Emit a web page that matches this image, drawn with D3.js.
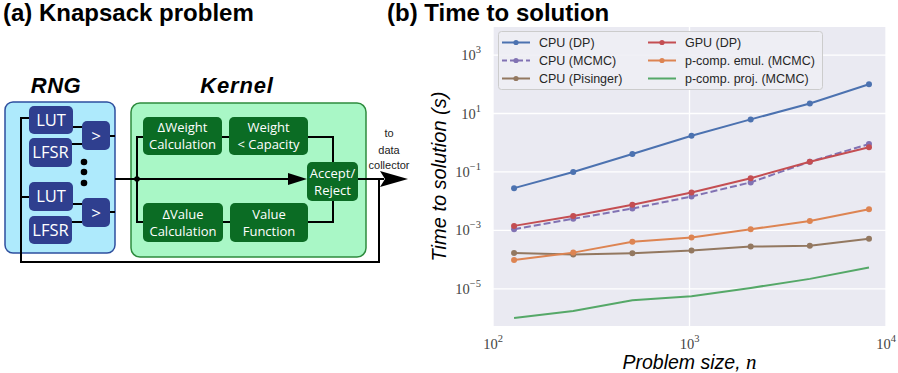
<!doctype html>
<html>
<head>
  <script src="https://d3js.org/d3.v7.min.js"></script>
  <style>
    body { margin: 0; background: #fff; }
    text { font-family: "Liberation Sans", Arial, sans-serif; }
  </style>
</head>
<body>
<div id="fig"></div>
<script>

// problem sizes n (x axis)
var sizes = [128, 256, 512, 1024, 2048, 4096, 8192];

// time to solution, seconds
var cpuDP       = [0.028, 0.10, 0.41, 1.74, 6.3, 22, 100];
var cpuMCMC     = [0.0011, 0.0025, 0.0056, 0.0145, 0.044, 0.225, 0.9];
var cpuPisinger = [1.7e-4, 1.49e-4, 1.66e-4, 2.04e-4, 2.8e-4, 3.0e-4, 5.2e-4];
var gpuDP       = [0.00143, 0.0031, 0.0076, 0.020, 0.061, 0.225, 0.70];
var pcompEmul   = [9.8e-5, 1.74e-4, 4.1e-4, 5.7e-4, 1.1e-3, 2.1e-3, 5.3e-3];
var pcompProj   = [1.0e-6, 1.74e-6, 4.1e-6, 5.6e-6, 1.08e-5, 2.2e-5, 5.4e-5];

var seriesNames = ["CPU (DP)", "CPU (MCMC)", "CPU (Pisinger)", "GPU (DP)", "p-comp. emul. (MCMC)", "p-comp. proj. (MCMC)"];
var xTickExps = [2, 3, 4];
var yTickExps = [3, 1, -1, -3, -5];

var series = [
  {name: seriesNames[0], values: cpuDP,       color: "#4c72b0", dash: null,  dots: true},
  {name: seriesNames[1], values: cpuMCMC,     color: "#8172b3", dash: "7,3", dots: true},
  {name: seriesNames[2], values: cpuPisinger, color: "#937860", dash: null,  dots: true},
  {name: seriesNames[3], values: gpuDP,       color: "#c44e52", dash: null,  dots: true},
  {name: seriesNames[4], values: pcompEmul,   color: "#dd8452", dash: null,  dots: true},
  {name: seriesNames[5], values: pcompProj,   color: "#55a868", dash: null,  dots: false}
];

var W = 898, H = 373;
var svg = d3.select("#fig").append("svg")
    .attr("width", W)
    .attr("height", H);

// panel titles
svg.append("text").attr("x", 3).attr("y", 21)
    .style("font-size", "24px").style("font-weight", "bold")
    .text("(a) Knapsack problem");
svg.append("text").attr("x", 387).attr("y", 21)
    .style("font-size", "24px").style("font-weight", "bold")
    .text("(b) Time to solution");

// ---------- (a) block diagram ----------
var dg = svg.append("g");
var boxFont = "'Open Sans', 'Noto Sans', sans-serif";

dg.append("text").attr("x", 56).attr("y", 93).attr("text-anchor", "middle")
    .style("font-size", "22px").style("font-weight", "bold").style("font-style", "italic")
    .style("letter-spacing", "0.5px").text("RNG");
dg.append("text").attr("x", 237).attr("y", 93).attr("text-anchor", "middle")
    .style("font-size", "22px").style("font-weight", "bold").style("font-style", "italic")
    .style("letter-spacing", "0.8px").text("Kernel");

dg.append("rect").attr("x", 5).attr("y", 102).attr("width", 110).attr("height", 151).attr("rx", 8)
    .attr("fill", "#aeeafc").attr("stroke", "#2e4f9e").attr("stroke-width", 1.5);
dg.append("rect").attr("x", 131).attr("y", 103).attr("width", 235).attr("height", 154).attr("rx", 9)
    .attr("fill", "#a9f7c6").attr("stroke", "#2e8c3e").attr("stroke-width", 1.5);

// wires
var wires = [
  [[29,118],[21,118],[21,262],[379,262],[379,179]],
  [[29,197],[21,197]],
  [[73,127],[82,127]], [[72,144],[82,144]],
  [[73,204],[82,204]], [[72,222],[82,222]],
  [[110,136],[115,136]], [[110,212],[115,212]],
  [[115,179],[292,179]],
  [[143,137],[137,137],[137,222],[143,222]],
  [[222,137],[229,137]], [[223,222],[230,222]],
  [[308,137],[333,137],[333,162]],
  [[308,222],[333,222],[333,201]],
  [[358,179],[384,179]]
];
wires.forEach(function(w) {
  dg.append("path").attr("d", d3.line()(w))
    .attr("fill", "none").attr("stroke", "#000").attr("stroke-width", 2);
});
dg.append("circle").attr("cx", 137).attr("cy", 179).attr("r", 2.8).attr("fill", "#000");
dg.append("path").attr("d", "M288,173L307,179L288,185Z").attr("fill", "#000");
dg.append("path").attr("d", "M380,171L408,179L380,187L385,179Z").attr("fill", "#000");

var blue = "#2f3f8f", green = "#0b6c24";
var blocks = [
  {x: 29, y: 106, w: 44, h: 28, fill: blue, lines: ["LUT"], fs: 16.5},
  {x: 29, y: 138, w: 43, h: 29, fill: blue, lines: ["LFSR"], fs: 16.5},
  {x: 82, y: 121, w: 28, h: 29, fill: blue, lines: [">"], fs: 17},
  {x: 29, y: 182, w: 44, h: 29, fill: blue, lines: ["LUT"], fs: 16.5},
  {x: 29, y: 216, w: 43, h: 28, fill: blue, lines: ["LFSR"], fs: 16.5},
  {x: 82, y: 198, w: 28, h: 29, fill: blue, lines: [">"], fs: 17},
  {x: 143, y: 117, w: 79, h: 38, fill: green, lines: ["\u0394Weight", "Calculation"], fs: 13},
  {x: 229, y: 117, w: 79, h: 38, fill: green, lines: ["Weight", "< Capacity"], fs: 13},
  {x: 143, y: 203, w: 80, h: 39, fill: green, lines: ["\u0394Value", "Calculation"], fs: 13},
  {x: 230, y: 203, w: 78, h: 39, fill: green, lines: ["Value", "Function"], fs: 13},
  {x: 307, y: 162, w: 51, h: 39, fill: green, lines: ["Accept/", "Reject"], fs: 13}
];
blocks.forEach(function(b) {
  dg.append("rect").attr("x", b.x).attr("y", b.y).attr("width", b.w).attr("height", b.h)
    .attr("rx", 5).attr("fill", b.fill);
  var n = b.lines.length;
  b.lines.forEach(function(s, i) {
    dg.append("text").attr("x", b.x + b.w / 2)
      .attr("y", b.y + b.h / 2 + (i - (n - 1) / 2) * 17 + b.fs * 0.36)
      .attr("text-anchor", "middle").attr("fill", "#fff")
      .style("font-family", boxFont).style("font-size", b.fs + "px")
      .text(s);
  });
});
[162, 172, 183].forEach(function(cy) {
  dg.append("circle").attr("cx", 84).attr("cy", cy).attr("r", 3.3).attr("fill", "#000");
});
["to", "data", "collector"].forEach(function(s, i) {
  dg.append("text").attr("x", 389).attr("y", [137, 154, 169][i]).attr("text-anchor", "middle")
    .style("font-size", "11px").attr("fill", "#222").text(s);
});

// ---------- (b) chart ----------
var plot = {left: 493, right: 886, top: 27, bottom: 326};

var x = d3.scaleLog().domain([1e2, 1e4]).range([plot.left, plot.right]);
var y = d3.scaleLog().domain([Math.pow(10, -6.27), Math.pow(10, 3.96)]).range([plot.bottom, plot.top]);

svg.append("rect").attr("x", plot.left).attr("y", plot.top)
    .attr("width", plot.right - plot.left).attr("height", plot.bottom - plot.top)
    .attr("fill", "#eaeaf2");

var grid = svg.append("g");
xTickExps.forEach(function(e) {
  grid.append("line").attr("x1", x(Math.pow(10, e))).attr("x2", x(Math.pow(10, e)))
    .attr("y1", plot.top).attr("y2", plot.bottom)
    .attr("stroke", "#fff").attr("stroke-width", 1.3);
});
yTickExps.forEach(function(e) {
  grid.append("line").attr("y1", y(Math.pow(10, e))).attr("y2", y(Math.pow(10, e)))
    .attr("x1", plot.left).attr("x2", plot.right)
    .attr("stroke", "#fff").attr("stroke-width", 1.3);
});

function expLabel(sel, e) {
  sel.style("font-family", "'Liberation Serif', 'DejaVu Serif', serif").attr("fill", "#444");
  sel.append("tspan").style("font-size", "14.5px").text("10");
  sel.append("tspan").attr("dy", -7).style("font-size", "10.5px")
    .text(e < 0 ? "\u2212" + (-e) : String(e));
}
xTickExps.forEach(function(e) {
  svg.append("text").attr("x", x(Math.pow(10, e))).attr("y", 349)
    .attr("text-anchor", "middle").call(expLabel, e);
});
yTickExps.forEach(function(e) {
  svg.append("text").attr("x", 481).attr("y", y(Math.pow(10, e)) + 5)
    .attr("text-anchor", "end").call(expLabel, e);
});

var line = d3.line()
    .x(function(d, i) { return x(sizes[i]); })
    .y(function(d) { return y(d); });

series.forEach(function(s) {
  svg.append("path").datum(s.values)
    .attr("d", line)
    .attr("fill", "none")
    .attr("stroke", s.color)
    .attr("stroke-width", 2)
    .attr("stroke-dasharray", s.dash);
  if (s.dots) {
    svg.selectAll(null).data(s.values).enter().append("circle")
      .attr("cx", function(d, i) { return x(sizes[i]); })
      .attr("cy", function(d) { return y(d); })
      .attr("r", 3)
      .attr("fill", s.color);
  }
});

// legend, two columns of three
var lg = svg.append("g");
lg.append("rect").attr("x", 498.5).attr("y", 31.5).attr("width", 324).attr("height", 58).attr("rx", 3)
    .attr("fill", "#eeeef4").attr("fill-opacity", 0.9).attr("stroke", "#cccccc");
series.forEach(function(s, i) {
  var col = Math.floor(i / 3), row = i % 3;
  var lx = 502 + col * 146, ly = 42.5 + row * 18;
  lg.append("line").attr("x1", lx).attr("x2", lx + 28).attr("y1", ly).attr("y2", ly)
    .attr("stroke", s.color).attr("stroke-width", 2).attr("stroke-dasharray", s.dash ? "5,3" : null);
  if (s.dots) {
    lg.append("circle").attr("cx", lx + 14).attr("cy", ly).attr("r", 2.6).attr("fill", s.color);
  }
  lg.append("text").attr("x", lx + 37).attr("y", ly + 4.4)
    .style("font-size", "12.5px").attr("fill", "#262626").text(s.name);
});

// axis labels
svg.append("text")
    .attr("transform", "translate(446," + ((plot.top + plot.bottom) / 2) + ") rotate(-90)")
    .attr("text-anchor", "middle")
    .style("font-size", "20px").style("font-style", "italic")
    .text("Time to solution (s)");

var xl = svg.append("text").attr("x", (plot.left + plot.right) / 2).attr("y", 369)
    .attr("text-anchor", "middle")
    .style("font-size", "19.5px").style("font-style", "italic");
xl.append("tspan").text("Problem size, ");
xl.append("tspan").style("font-family", "'Liberation Serif', serif").style("font-size", "21px").text("n");

</script>
</body>
</html>
